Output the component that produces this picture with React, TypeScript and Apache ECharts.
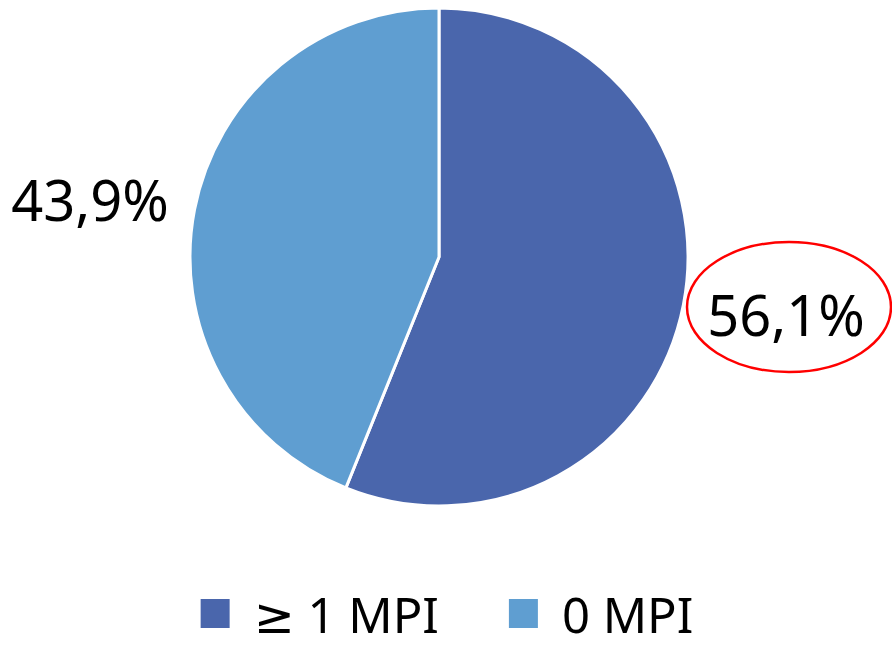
import React, { useEffect, useRef } from "react";
import * as echarts from "echarts";

const categories = ["≥ 1 MPI", "0 MPI"];
const values = [56.1, 43.9];
const colors = ["#4A66AC", "#5F9ED1"];
const labelPositions = [
  [786, 314],
  [90, 199],
];

export default function App() {
  const ref = useRef<HTMLDivElement>(null);
  useEffect(() => {
    if (!ref.current) return;
    const chart = echarts.init(ref.current, null, { renderer: "svg" });
    const font = "'Noto Sans', 'DejaVu Sans', sans-serif";
    chart.setOption({
      animation: false,
      backgroundColor: "#ffffff",
      legend: {
        data: categories,
        left: "center",
        top: 589,
        padding: 0,
        itemWidth: 31,
        itemHeight: 31,
        itemGap: 68,
        icon: "rect",
        textStyle: {
          fontFamily: font,
          fontSize: 49,
          lineHeight: 49,
          color: "#000000",
          padding: [0, 0, 0, 18],
        },
      },
      graphic: [
        {
          type: "ellipse",
          shape: { cx: 789, cy: 307, rx: 102, ry: 65 },
          style: { fill: "none", stroke: "#FF0000", lineWidth: 2.5 },
          z: 100,
        },
      ],
      series: [
        {
          type: "pie",
          center: [439, 257],
          radius: 249,
          startAngle: 90,
          clockwise: true,
          emphasis: { disabled: true },
          itemStyle: { borderColor: "#ffffff", borderWidth: 3 },
          labelLine: { show: false },
          label: {
            show: true,
            position: "outside",
            overflow: "none",
            fontFamily: font,
            fontSize: 56,
            lineHeight: 56,
            color: "#000000",
            formatter: (p: any) => p.value.toFixed(1).replace(".", ",") + "%",
          },
          labelLayout: (p: any) => {
            const pos = labelPositions[p.dataIndex];
            return {
              x: pos[0],
              y: pos[1],
              width: 260,
              align: "center",
              verticalAlign: "middle",
            };
          },
          data: categories.map((c, i) => ({
            name: c,
            value: values[i],
            itemStyle: { color: colors[i] },
          })),
        },
      ],
    });
    return () => chart.dispose();
  }, []);
  return (
    <div
      ref={ref}
      style={{ position: "fixed", left: 0, top: 0, width: 892, height: 646 }}
    />
  );
}
